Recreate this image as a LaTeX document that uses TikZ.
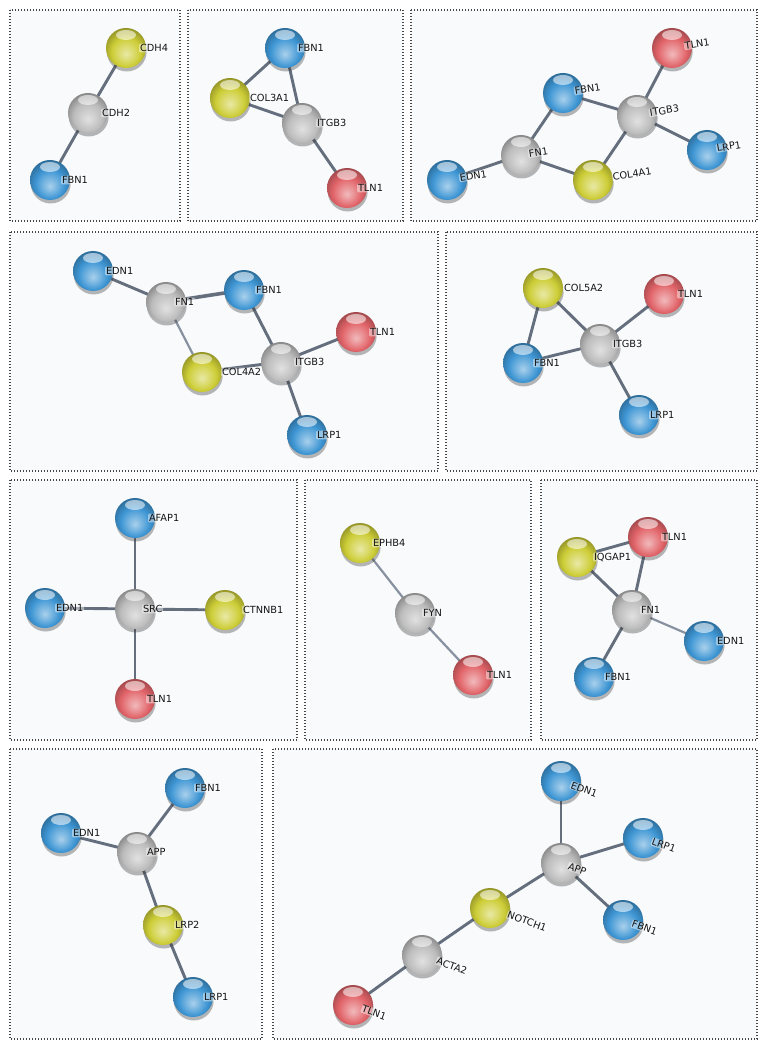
\documentclass[tikz,border=0pt]{standalone}
\usepackage{fontspec}
\setmainfont{DejaVu Sans}
\usetikzlibrary{calc}
\definecolor{sblue}{RGB}{62,150,212}
\definecolor{syellow}{RGB}{205,205,55}
\definecolor{sred}{RGB}{225,100,105}
\definecolor{sgrey}{RGB}{188,188,188}
\definecolor{edgec}{RGB}{100,110,125}
\definecolor{edgel}{RGB}{135,145,160}
\definecolor{panelbg}{RGB}{248,250,252}
\definecolor{dotc}{RGB}{70,70,70}
\pgfdeclareradialshading{gb}{\pgfpoint{0bp}{-8bp}}{color(0bp)=(sblue!45!white); color(10bp)=(sblue!75!white); color(18bp)=(sblue); color(24bp)=(sblue!85!black); color(33bp)=(sblue!60!black); color(50bp)=(sblue!60!black)}
\pgfdeclareradialshading{gy}{\pgfpoint{0bp}{-8bp}}{color(0bp)=(syellow!45!white); color(10bp)=(syellow!75!white); color(18bp)=(syellow); color(24bp)=(syellow!85!black); color(33bp)=(syellow!60!black); color(50bp)=(syellow!60!black)}
\pgfdeclareradialshading{gr}{\pgfpoint{0bp}{-8bp}}{color(0bp)=(sred!45!white); color(10bp)=(sred!75!white); color(18bp)=(sred); color(24bp)=(sred!85!black); color(33bp)=(sred!60!black); color(50bp)=(sred!60!black)}
\pgfdeclareradialshading{gg}{\pgfpoint{0bp}{-8bp}}{color(0bp)=(sgrey!45!white); color(10bp)=(sgrey!75!white); color(18bp)=(sgrey); color(24bp)=(sgrey!85!black); color(33bp)=(sgrey!60!black); color(50bp)=(sgrey!60!black)}
\pgfdeclarelayer{bg}
\pgfdeclarelayer{edges}
\pgfsetlayers{bg,edges,main}
\tikzset{
  ball/.style={circle, minimum size=40pt, inner sep=0pt, shade, shading=g#1,
    path picture={\fill[white,opacity=.55] ([yshift=-7pt]path picture bounding box.north) ellipse [x radius=10pt, y radius=5pt];}},
  lbl/.style={font=\fontsize{9.8}{10}\selectfont, text=black!92, inner sep=0.8pt,
    fill=white, fill opacity=0.45, text opacity=1, rounded corners=1pt,
    text height=7pt, text depth=0pt},
  edge/.style={draw=edgec, line width=2.9pt},
  thickedge/.style={draw=edgec, line width=3.6pt},
  lightedge/.style={draw=edgel, line width=2.2pt},
  panel/.style={draw=dotc, fill=panelbg, line width=1.1pt, dash pattern=on 1pt off 2pt},
  shad/.style={fill=black!80, opacity=0.35}
}
\newcommand\gball[4]{\fill[shad] (#2+0.7,#3+3.5) circle (20);
  \node[ball=#4] (#1) at (#2,#3) {};}
\newcommand\glab[4][0]{\node[lbl, rotate=#1, anchor=west] (#2l) at ($(#2.center)+(#1:#4pt)$) {#3};}
\newcommand\gpanel[5]{\begin{pgfonlayer}{bg}\path[panel] (#2,#3) rectangle (#4,#5) coordinate (#1);\end{pgfonlayer}}
\newcommand\gedge[3][edge]{\begin{pgfonlayer}{edges}\draw[#1] (#2.center) -- (#3.center);\end{pgfonlayer}}
\begin{document}
\begin{tikzpicture}[x=1pt,y=-1pt]
\begin{pgfonlayer}{bg}
\fill[white] (0,0) rectangle (765,1048);
\end{pgfonlayer}
\useasboundingbox (0,0) rectangle (765,1048);
% panels
\gpanel{pA}{10}{10}{180}{221}
\gpanel{pB}{188}{10}{403}{221}
\gpanel{pC}{411}{10}{757}{221}
\gpanel{pD}{10}{232}{438}{471}
\gpanel{pE}{446}{232}{757}{471}
\gpanel{pF}{10}{480}{297}{740}
\gpanel{pG}{305}{480}{531}{740}
\gpanel{pH}{541}{480}{757}{740}
\gpanel{pI}{10}{749}{262}{1039}
\gpanel{pJ}{273}{749}{757}{1039}
% ---- A
\gball{aCDH4}{126}{48}{y}
\gball{aCDH2}{88}{113}{g}
\gball{aFBN1}{50}{180}{b}
\gedge{aCDH4}{aCDH2}
\gedge{aCDH2}{aFBN1}
\glab{aCDH4}{CDH4}{13}
\glab{aCDH2}{CDH2}{13}
\glab{aFBN1}{FBN1}{11}
% ---- B
\gball{bFBN1}{285}{48}{b}
\gball{bCOL3A1}{230}{98}{y}
\gball{bITGB3}{302}{123}{g}
\gball{bTLN1}{347}{188}{r}
\gedge{bFBN1}{bCOL3A1}
\gedge{bFBN1}{bITGB3}
\gedge{bCOL3A1}{bITGB3}
\gedge{bITGB3}{bTLN1}
\glab{bFBN1}{FBN1}{12}
\glab{bCOL3A1}{COL3A1}{19}
\glab{bITGB3}{ITGB3}{14}
\glab{bTLN1}{TLN1}{10}
% ---- C
\gball{cTLN1}{672}{48}{r}
\gball{cFBN1}{563}{93}{b}
\gball{cITGB3}{637}{115}{g}
\gball{cLRP1}{707}{150}{b}
\gball{cFN1}{521}{155}{g}
\gball{cEDN1}{447}{180}{b}
\gball{cCOL4A1}{593}{180}{y}
\gedge{cTLN1}{cITGB3}
\gedge{cFBN1}{cITGB3}
\gedge{cFBN1}{cFN1}
\gedge{cITGB3}{cLRP1}
\gedge{cITGB3}{cCOL4A1}
\gedge{cFN1}{cEDN1}
\gedge{cFN1}{cCOL4A1}
\glab[9]{cTLN1}{TLN1}{12}
\glab[9]{cFBN1}{FBN1}{11}
\glab[9]{cITGB3}{ITGB3}{12}
\glab[9]{cLRP1}{LRP1}{9}
\glab[9]{cFN1}{FN1}{7}
\glab[9]{cEDN1}{EDN1}{12}
\glab[9]{cCOL4A1}{COL4A1}{19}
% ---- D
\gball{dEDN1}{93}{271}{b}
\gball{dFN1}{166}{302}{g}
\gball{dFBN1}{244}{290}{b}
\gball{dTLN1}{356}{332}{r}
\gball{dITGB3}{281}{362}{g}
\gball{dCOL4A2}{202}{372}{y}
\gball{dLRP1}{307}{435}{b}
\gedge{dEDN1}{dFN1}
\gedge[thickedge]{dFN1}{dFBN1}
\gedge[lightedge]{dFN1}{dCOL4A2}
\gedge{dFBN1}{dITGB3}
\gedge{dCOL4A2}{dITGB3}
\gedge{dITGB3}{dTLN1}
\gedge{dITGB3}{dLRP1}
\glab{dEDN1}{EDN1}{12}
\glab{dFN1}{FN1}{8}
\glab{dFBN1}{FBN1}{11}
\glab{dTLN1}{TLN1}{13}
\glab{dITGB3}{ITGB3}{13}
\glab{dCOL4A2}{COL4A2}{19}
\glab{dLRP1}{LRP1}{9}
% ---- E
\gball{eCOL5A2}{543}{288}{y}
\gball{eTLN1}{664}{294}{r}
\gball{eITGB3}{600}{344}{g}
\gball{eFBN1}{523}{363}{b}
\gball{eLRP1}{639}{415}{b}
\gedge{eCOL5A2}{eFBN1}
\gedge{eCOL5A2}{eITGB3}
\gedge{eTLN1}{eITGB3}
\gedge{eFBN1}{eITGB3}
\gedge{eITGB3}{eLRP1}
\glab{eCOL5A2}{COL5A2}{20}
\glab{eTLN1}{TLN1}{13}
\glab{eITGB3}{ITGB3}{12}
\glab{eFBN1}{FBN1}{10}
\glab{eLRP1}{LRP1}{10}
% ---- F
\gball{fAFAP1}{135}{518}{b}
\gball{fEDN1}{45}{608}{b}
\gball{fSRC}{135}{609}{g}
\gball{fCTNNB1}{225}{610}{y}
\gball{fTLN1}{135}{699}{r}
\gedge{fSRC}{fAFAP1}
\gedge{fSRC}{fEDN1}
\gedge{fSRC}{fCTNNB1}
\gedge{fSRC}{fTLN1}
\glab{fAFAP1}{AFAP1}{13}
\glab{fEDN1}{EDN1}{10}
\glab{fSRC}{SRC}{7}
\glab{fCTNNB1}{CTNNB1}{17}
\glab{fTLN1}{TLN1}{11}
% ---- G
\gball{gEPHB4}{360}{543}{y}
\gball{gFYN}{415}{613}{g}
\gball{gTLN1}{473}{675}{r}
\gedge[lightedge]{gEPHB4}{gFYN}
\gedge[lightedge]{gFYN}{gTLN1}
\glab{gEPHB4}{EPHB4}{12}
\glab{gFYN}{FYN}{7}
\glab{gTLN1}{TLN1}{13}
% ---- H
\gball{hTLN1}{648}{537}{r}
\gball{hIQGAP1}{577}{557}{y}
\gball{hFN1}{632}{610}{g}
\gball{hEDN1}{704}{641}{b}
\gball{hFBN1}{594}{677}{b}
\gedge{hIQGAP1}{hTLN1}
\gedge{hIQGAP1}{hFN1}
\gedge{hTLN1}{hFN1}
\gedge[lightedge]{hFN1}{hEDN1}
\gedge{hFN1}{hFBN1}
\glab{hTLN1}{TLN1}{13}
\glab{hIQGAP1}{IQGAP1}{16}
\glab{hFN1}{FN1}{8}
\glab{hEDN1}{EDN1}{12}
\glab{hFBN1}{FBN1}{10}
% ---- I
\gball{iFBN1}{185}{788}{b}
\gball{iEDN1}{61}{833}{b}
\gball{iAPP}{137}{852}{g}
\gball{iLRP2}{163}{925}{y}
\gball{iLRP1}{193}{997}{b}
\gedge{iAPP}{iFBN1}
\gedge{iAPP}{iEDN1}
\gedge{iAPP}{iLRP2}
\gedge{iLRP2}{iLRP1}
\glab{iFBN1}{FBN1}{9}
\glab{iEDN1}{EDN1}{11}
\glab{iAPP}{APP}{9}
\glab{iLRP2}{LRP2}{11}
\glab{iLRP1}{LRP1}{10}
% ---- J
\gball{jEDN1}{561}{781}{b}
\gball{jLRP1}{643}{838}{b}
\gball{jAPP}{561}{863}{g}
\gball{jFBN1}{623}{920}{b}
\gball{jNOTCH1}{490}{908}{y}
\gball{jACTA2}{422}{955}{g}
\gball{jTLN1}{353}{1005}{r}
\gedge{jEDN1}{jAPP}
\gedge{jLRP1}{jAPP}
\gedge{jFBN1}{jAPP}
\gedge{jAPP}{jNOTCH1}
\gedge{jNOTCH1}{jACTA2}
\gedge{jACTA2}{jTLN1}
\glab[-20]{jEDN1}{EDN1}{10}
\glab[-20]{jLRP1}{LRP1}{9}
\glab[-20]{jAPP}{APP}{7}
\glab[-20]{jFBN1}{FBN1}{9}
\glab[-20]{jNOTCH1}{NOTCH1}{18}
\glab[-20]{jACTA2}{ACTA2}{15}
\glab[-20]{jTLN1}{TLN1}{9}
\end{tikzpicture}
\end{document}
